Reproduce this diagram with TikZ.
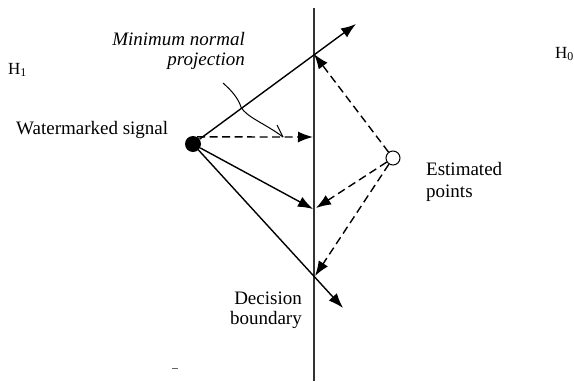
\documentclass[tikz,border=0pt]{standalone}
\usepackage{fontspec}
\setmainfont{Liberation Serif}
\usetikzlibrary{arrows.meta}
\begin{document}
\begin{tikzpicture}[x=1pt,y=-1pt,
  conn/.style={line width=1.4pt,-{Latex[length=15pt,width=11pt]}},
  dconn/.style={conn,dash pattern=on 8pt off 4.5pt},
  lbl/.style={font=\fontsize{19}{20}\selectfont, inner sep=0},
  hlbl/.style={font=\fontsize{17}{18}\selectfont, inner sep=0}]
\useasboundingbox[fill=white] (0,0) rectangle (574,381);
% decision boundary
\coordinate (btop) at (314,8);
\coordinate (bbot) at (314,381);
\draw[line width=1.1pt,black!80] (btop) -- (bbot);
% points
\node[circle,fill,inner sep=0,minimum size=16pt] (wm) at (193,144) {};
\node[circle,draw,line width=1pt,fill=white,inner sep=0,minimum size=14pt] (est) at (393,158) {};
% targets
\coordinate (a1) at (356,24);
\coordinate (c1) at (314,54);
\coordinate (proj) at (313,137);
\coordinate (c2) at (313,209);
\coordinate (c2e) at (316,208);
\coordinate (c3) at (315,276);
\coordinate (a3) at (343,308);
% solid arrows
\draw[conn] (wm) -- (a1);
\draw[conn] (wm) -- (c2);
\draw[conn] (wm) -- (a3);
\draw[dconn] (wm.60) -- (proj);
% dashed arrows from estimated point
\draw[dconn] (est) -- (c1);
\draw[dconn] (est) -- (c2e);
\draw[dconn] (est) -- (c3);
% pointer squiggle
\coordinate (s0) at (223,83);
\coordinate (s1) at (241,107);
\coordinate (s2) at (283,137);
\coordinate (s3) at (277,125);
\draw[line width=1pt] (s0) .. controls (232,91) and (238,98) .. (s1)
  .. controls (246,117) and (266,124) .. (s2);
\draw[line width=1pt] (s2) -- (s3);
% labels
\node[lbl,anchor=base east,font=\fontsize{19}{20}\selectfont\itshape] (mn1) at (245,45) {Minimum normal};
\node[lbl,anchor=base east,font=\fontsize{19}{20}\selectfont\itshape] (mn2) at (245,65) {projection};
\node[lbl,anchor=base west] (wlab) at (16,134) {Watermarked signal};
\node[lbl,anchor=base west] (e1) at (426,175) {Estimated};
\node[lbl,anchor=base west] (e2) at (426,197) {points};
\node[lbl,anchor=base east] (d1) at (302,304) {Decision};
\node[lbl,anchor=base east] (d2) at (302,324) {boundary};
\node[hlbl,anchor=base west] (h1) at (8,74) {H\textsubscript{1}};
\node[hlbl,anchor=base west] (h0) at (555,58) {H\textsubscript{0}};
% small mark
\coordinate (m0) at (172,368);
\coordinate (m1) at (178,368);
\draw[line width=0.6pt,black!60] (m0) -- (m1);
\end{tikzpicture}
\end{document}
